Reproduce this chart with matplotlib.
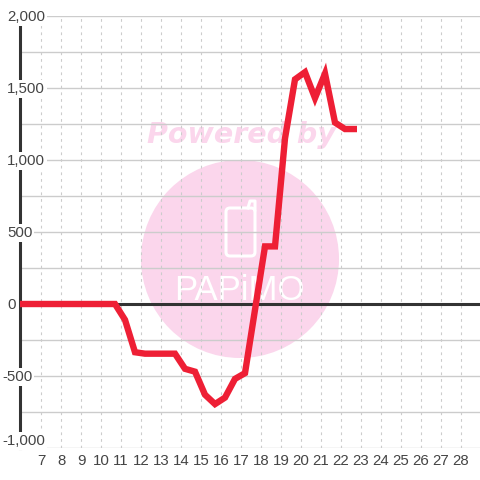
import matplotlib
matplotlib.use('Agg')
import matplotlib.pyplot as plt
from matplotlib.patches import Circle, FancyBboxPatch

plt.rcParams['font.family'] = ['Liberation Sans', 'DejaVu Sans']

hours = [5.85, 10.7, 11.2, 11.7, 12.2, 13.7, 14.2, 14.7, 15.2, 15.7, 16.2, 16.7, 17.2,
         18.2, 18.7, 19.2, 19.7, 20.2, 20.7, 21.2, 21.7, 22.2, 22.8]
values = [0, 0, -110, -335, -345, -345, -450, -470, -630, -695, -650, -520, -480,
          400, 400, 1150, 1560, 1610, 1430, 1600, 1260, 1215, 1215]
x_ticks = list(range(7, 29))
y_labels = {2000: '2,000', 1500: '1,500', 1000: '1,000', 500: '500', 0: '0',
            -500: '-500', -1000: '-1,000'}
y_minor = [1750, 1250, 750, 250, -250, -750]

fig = plt.figure(figsize=(4.8, 4.8), dpi=100, facecolor='white')

# watermark sits underneath, in plain pixel coordinates
bg = fig.add_axes([0, 0, 1, 1], zorder=0)
bg.set_xlim(0, 480)
bg.set_ylim(480, 0)
bg.axis('off')
pink = '#fbd6ec'
bg.add_patch(Circle((240, 259), 99, color=pink, lw=0))
bg.text(241, 135, 'Powered by', color=pink, fontsize=20.5, weight='bold', style='italic',
        family='DejaVu Sans', ha='center', va='center')
bg.add_patch(FancyBboxPatch((226, 208), 29, 48, boxstyle='round,pad=0,rounding_size=4',
                            fc='none', ec='white', lw=2.2))
bg.plot([248, 250, 255, 255], [208, 201, 201, 210], color='white', lw=2.2)
bg.text(239, 290, 'PAPiMO', color='white', fontsize=25, ha='center', va='center')

ax = fig.add_axes([20 / 480, 32 / 480, 460 / 480, 432 / 480], zorder=1)
ax.patch.set_alpha(0)
ax.set_xlim(5.95, 28.95)
ax.set_ylim(-1000, 2000)

for s in ['top', 'right', 'bottom']:
    ax.spines[s].set_visible(False)
ax.spines['left'].set_linewidth(2.2)
ax.spines['left'].set_color('#333333')
ax.spines['left'].set_zorder(2)

ax.set_xticks(x_ticks)
ax.set_yticks(list(y_labels) + y_minor)
ax.set_yticklabels([])
ax.tick_params(length=0, labelsize=10.8, labelcolor='#444444', pad=4)
ax.grid(axis='y', color='#cccccc', lw=1.0, zorder=1)
ax.grid(axis='x', color='#cccccc', lw=0.8, ls=(0, (2.5, 3.5)), zorder=1)
ax.set_axisbelow(True)

ax.axhline(0, color='#333333', lw=2.2, zorder=3)
ax.plot(hours, values, color='#ee1f35', lw=4.6, solid_joinstyle='miter',
        solid_capstyle='butt', zorder=4)

for v, lab in y_labels.items():
    # the lowest label is lifted so it clears the x labels
    dy = 7 if v == -1000 else -1
    ax.annotate(lab, xy=(2 if v < 0 else 7, v), xycoords=('figure pixels', 'data'),
                xytext=(0, dy * 0.72), textcoords='offset points',
                ha='left', va='center', fontsize=10.8, color='#444444', zorder=5,
                bbox=dict(fc='white', ec='none', pad=1.5))

fig.savefig('out.png', dpi=100)
